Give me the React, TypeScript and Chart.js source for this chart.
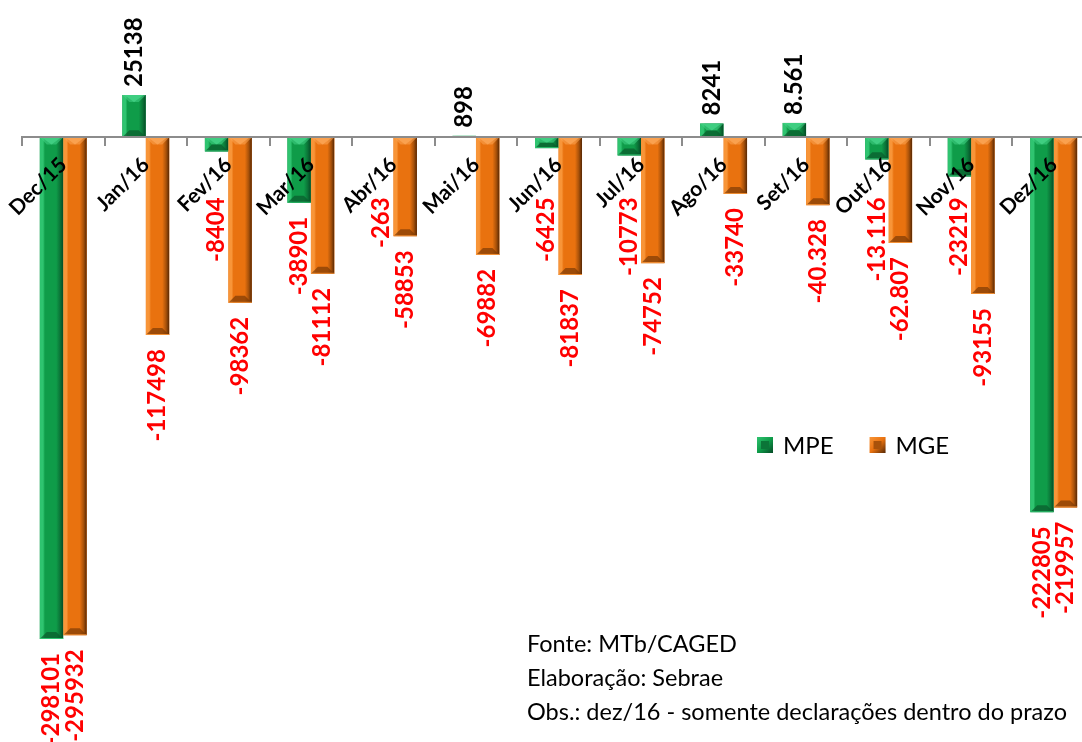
import React, { useEffect, useRef } from 'react';
import { Chart, registerables } from 'chart.js';

Chart.register(...registerables);

const categories = ['Dec/15', 'Jan/16', 'Fev/16', 'Mar/16', 'Abr/16', 'Mai/16', 'Jun/16', 'Jul/16', 'Ago/16', 'Set/16', 'Out/16', 'Nov/16', 'Dez/16'];
const mpeValues = [-298101, 25138, -8404, -38901, -263, 898, -6425, -10773, 8241, 8561, -13116, -23219, -222805];
const mgeValues = [-295932, -117498, -98362, -81112, -58853, -69882, -81837, -74752, -33740, -40328, -62807, -93155, -219957];
const mpeLabels = ['-298101', '25138', '-8404', '-38901', '-263', '898', '-6425', '-10773', '8241', '8.561', '-13.116', '-23219', '-222805'];
const mgeLabels = ['-295932', '-117498', '-98362', '-81112', '-58853', '-69882', '-81837', '-74752', '-33740', '-40.328', '-62.807', '-93155', '-219957'];
const seriesNames = ['MPE', 'MGE'];
const notes = ['Fonte: MTb/CAGED', 'Elaboração: Sebrae', 'Obs.: dez/16 - somente declarações dentro do prazo'];

const PALETTES = [
  { light: '#2fc470', main: '#0f9c49', dark: '#0b7538', darkest: '#054a26', top: '#45d387', bottom: '#0a5a2c' },
  { light: '#f89538', main: '#e9720f', dark: '#a9520a', darkest: '#552704', top: '#fba656', bottom: '#7c3b05' },
];

function barGradient(ctx: CanvasRenderingContext2D, left: number, right: number, p: any) {
  const g = ctx.createLinearGradient(left, 0, right, 0);
  g.addColorStop(0, p.light);
  g.addColorStop(0.14, p.light);
  g.addColorStop(0.22, p.main);
  g.addColorStop(0.7, p.main);
  g.addColorStop(0.86, p.dark);
  g.addColorStop(1, p.darkest);
  return g;
}

const bevelPlugin = {
  id: 'bevel',
  afterDatasetsDraw(chart: any) {
    const ctx: CanvasRenderingContext2D = chart.ctx;
    chart.data.datasets.forEach((_ds: any, di: number) => {
      const meta = chart.getDatasetMeta(di);
      const p = PALETTES[di];
      meta.data.forEach((el: any) => {
        const { x, y, base, width } = el.getProps(['x', 'y', 'base', 'width'], true);
        const left = x - width / 2;
        const right = x + width / 2;
        const top = Math.min(y, base);
        const bottom = Math.max(y, base);
        const h = bottom - top;
        if (h < 0.5) return;
        ctx.save();
        ctx.beginPath();
        ctx.rect(left, top, width, h);
        ctx.clip();
        ctx.fillStyle = barGradient(ctx, left, right, p);
        ctx.fillRect(left, top, width, h);
        const bev = Math.min(width * 0.3, h / 2);
        ctx.fillStyle = p.top;
        ctx.beginPath();
        ctx.moveTo(left, top);
        ctx.lineTo(right, top);
        ctx.lineTo(right - bev, top + bev);
        ctx.lineTo(left + bev, top + bev);
        ctx.closePath();
        ctx.globalAlpha = 0.55;
        ctx.fill();
        ctx.globalAlpha = 0.8;
        ctx.beginPath();
        ctx.moveTo(left + 2, top);
        ctx.lineTo(right - 2, top);
        ctx.lineTo(x, top + bev);
        ctx.closePath();
        ctx.fill();
        ctx.globalAlpha = 0.7;
        ctx.fillStyle = p.bottom;
        ctx.beginPath();
        ctx.moveTo(left, bottom);
        ctx.lineTo(right, bottom);
        ctx.lineTo(right - bev, bottom - bev);
        ctx.lineTo(left + bev, bottom - bev);
        ctx.closePath();
        ctx.fill();
        ctx.globalAlpha = 1;
        ctx.fillStyle = p.light;
        ctx.fillRect(left, bottom - 1, width, 1);
        ctx.restore();
      });
    });
  },
};

const valueLabelPlugin = {
  id: 'valueLabels',
  afterDraw(chart: any) {
    const ctx: CanvasRenderingContext2D = chart.ctx;
    const zeroY = chart.scales.y.getPixelForValue(0);
    const labelSets = [mpeLabels, mgeLabels];
    ctx.save();
    ctx.font = 'bold 24px Lato';
    ctx.textBaseline = 'middle';
    chart.data.datasets.forEach((ds: any, di: number) => {
      const meta = chart.getDatasetMeta(di);
      meta.data.forEach((el: any, i: number) => {
        const v = ds.data[i];
        const text = labelSets[di][i];
        const { x, y } = el.getProps(['x', 'y'], true);
        ctx.save();
        if (v >= 0) {
          ctx.fillStyle = '#000000';
          ctx.translate(x, y - 8);
          ctx.rotate(-Math.PI / 2);
          ctx.textAlign = 'left';
        } else {
          ctx.fillStyle = '#ff0000';
          const anchor = Math.max(y + 14, zeroY + 60);
          ctx.translate(x, anchor);
          ctx.rotate(-Math.PI / 2);
          ctx.textAlign = 'right';
        }
        ctx.fillText(text, 0, 0);
        ctx.restore();
      });
    });
    ctx.restore();
  },
};

const legendPlugin = {
  id: 'customLegend',
  afterDraw(chart: any) {
    const ctx: CanvasRenderingContext2D = chart.ctx;
    ctx.save();
    ctx.font = '24px Lato';
    ctx.textBaseline = 'middle';
    ctx.textAlign = 'left';
    let cx = 757;
    const cy = 445;
    const size = 16;
    chart.data.datasets.forEach((ds: any, di: number) => {
      const p = PALETTES[di];
      const g = ctx.createLinearGradient(cx, cy - size / 2, cx + size, cy + size / 2);
      g.addColorStop(0, p.light);
      g.addColorStop(0.5, p.main);
      g.addColorStop(1, p.darkest);
      ctx.fillStyle = g;
      ctx.fillRect(cx, cy - size / 2, size, size);
      ctx.fillStyle = p.dark;
      ctx.fillRect(cx + 4, cy - size / 2 + 4, size - 8, size - 8);
      ctx.fillStyle = '#000000';
      const tx = cx + size + 10;
      ctx.fillText(ds.label, tx, cy + 1);
      cx = tx + ctx.measureText(ds.label).width + 36;
    });
    ctx.restore();
  },
};

export default function App() {
  const canvasRef = useRef<HTMLCanvasElement | null>(null);

  useEffect(() => {
    if (!canvasRef.current) return;
    const chart = new Chart(canvasRef.current, {
      type: 'bar',
      data: {
        labels: categories,
        datasets: [
          { label: seriesNames[0], data: mpeValues, backgroundColor: PALETTES[0].main, borderWidth: 0 },
          { label: seriesNames[1], data: mgeValues, backgroundColor: PALETTES[1].main, borderWidth: 0 },
        ],
      },
      options: {
        animation: false,
        responsive: true,
        maintainAspectRatio: false,
        layout: { padding: { left: 22, right: 0, top: 0, bottom: 0 } },
        datasets: { bar: { categoryPercentage: 0.57, barPercentage: 1 } },
        plugins: { legend: { display: false }, tooltip: { enabled: false } },
        scales: {
          x: {
            type: 'category',
            position: { y: 0 },
            offset: true,
            grid: { drawOnChartArea: false, drawTicks: true, tickLength: 8, color: '#8c8c8c', lineWidth: 2, offset: true },
            border: { display: true, color: '#8c8c8c', width: 2, z: 1 },
            ticks: {
              autoSkip: false,
              maxRotation: 45,
              minRotation: 45,
              padding: 7,
              color: '#000000',
              font: { family: 'Lato', weight: 'bold', size: 21 },
              z: 1,
            },
            afterFit: (s: any) => { s.height = 0; },
          } as any,
          y: { display: false, min: -359300, max: 81600 },
        },
      },
      plugins: [bevelPlugin, valueLabelPlugin, legendPlugin],
    });
    const fonts: any = (document as any).fonts;
    if (fonts && fonts.load) {
      Promise.all([fonts.load('bold 21px Lato'), fonts.load('24px Lato')]).then(() => chart.update()).catch(() => {});
    }
    return () => chart.destroy();
  }, []);

  return (
    <div style={{ position: 'fixed', left: 0, top: 0, width: 1082, height: 742, overflow: 'hidden', background: '#ffffff' }}>
      <div style={{ position: 'absolute', left: 0, top: 0, width: 1095, height: 742 }}>
        <canvas ref={canvasRef} />
      </div>
      <div style={{ position: 'absolute', left: 527, top: 626, fontFamily: 'Lato', fontSize: 23.5, lineHeight: '34px', color: '#000', whiteSpace: 'nowrap' }}>
        {notes.map((n) => (
          <div key={n}>{n}</div>
        ))}
      </div>
    </div>
  );
}
